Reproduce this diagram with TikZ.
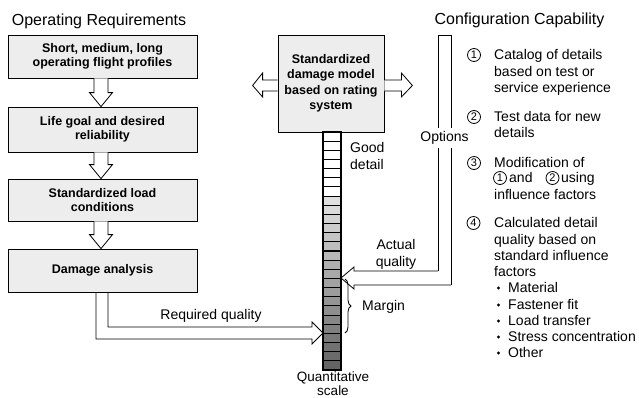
\documentclass[tikz,border=0pt]{standalone}
\usepackage{fontspec}
\setmainfont{Liberation Sans}
\usetikzlibrary{calc,decorations.pathreplacing}
\begin{document}
\begin{tikzpicture}[x=1pt,y=-1pt,
  reqbox/.style={draw=black, line width=0.8pt, fill=black!7, minimum width=189pt, align=center, font=\fontsize{12.5}{14}\selectfont\bfseries, inner sep=0pt},
  lbl/.style={font=\fontsize{14}{16.5}\selectfont, inner sep=0pt},
  ttl/.style={font=\fontsize{16}{18}\selectfont, inner sep=0pt},
  hollow/.style={draw=black, line width=0.8pt, line join=miter},
  cnum/.style={draw=black, circle, line width=0.8pt, minimum size=13pt, inner sep=0pt, font=\fontsize{11}{11}\selectfont},
  cell/.style={draw=black, line width=1.1pt},
]
\useasboundingbox (0,0) rectangle (639,397);

% titles
\node[ttl] (t1) at (99,21) {Operating Requirements};
\node[ttl] (t2) at (519.5,20) {Configuration Capability};

% left boxes
\node[reqbox, minimum height=43pt] (b1) at (102.5,56.5) {Short, medium, long\\operating flight profiles};
\node[reqbox, minimum height=45pt] (b2) at (102.5,129.5) {Life goal and desired\\reliability};
\node[reqbox, minimum height=42pt] (b3) at (102.5,200) {Standardized load\\conditions};
\node[reqbox, minimum height=43pt] (b4) at (102.5,270.5) {Damage analysis};

% hollow arrows between boxes
\foreach \u/\v in {b1/b2, b2/b3, b3/b4}{
  \draw[hollow, fill=white] ($(\u.south)+(-8.5,0)$) -- ($(\v.north)+(-8.5,-14)$) -- ($(\v.north)+(-13,-14)$)
     -- ($(\v.north)+(-1.5,0)$) -- ($(\v.north)+(10,-14)$) -- ($(\v.north)+(5.5,-14)$) -- ($(\u.south)+(5.5,0)$);
}

% central box
\node[draw=black, line width=0.8pt, fill=black!7, minimum width=106pt, minimum height=97pt, inner sep=0pt,
      align=center, font=\fontsize{12.5}{15.5}\selectfont\bfseries] (c) at (331,83.5)
      {Standardized\\damage model\\based on rating\\system};

% double arrows
\draw[hollow, fill=white] ($(c.west)+(0,-3.5)$) -- ($(c.west)+(-15,-3.5)$) -- ($(c.west)+(-15,-10.5)$)
   -- ($(c.west)+(-25,2)$) -- ($(c.west)+(-15,13.5)$) -- ($(c.west)+(-15,7.5)$) -- ($(c.west)+(0,7.5)$);
\draw[hollow, fill=white] ($(c.east)+(0,-3.5)$) -- ($(c.east)+(17,-3.5)$) -- ($(c.east)+(17,-10.5)$)
   -- ($(c.east)+(28,2)$) -- ($(c.east)+(17,13.5)$) -- ($(c.east)+(17,7.5)$) -- ($(c.east)+(0,7.5)$);

% quantitative scale
\coordinate (sTL) at (323,132);
\coordinate (sBR) at (341,370);
\foreach \i in {0,...,25}{
  \pgfmathsetmacro{\yt}{132+\i*9.1538}
  \pgfmathsetmacro{\yb}{132+(\i+1)*9.1538}
  \pgfmathsetmacro{\shade}{\i<7 ? 0 : 12+(\i-7)*2.7}
  \draw[cell, fill=black!\shade] (323,\yt) rectangle (341,\yb);
}
\draw[line width=1.6pt] (sTL) rectangle (sBR);

\node[lbl, anchor=base west] (gd1) at (350,152.5) {Good};
\node[lbl, anchor=base west] (gd2) at (350,169.5) {detail};

% required quality arrow
\draw[hollow] ($(b4.south)+(-6.5,0)$) |- (312,339) -- (312,344) -- (sTL |- 0,333) -- (312,322) -- (312,327) -| ($(b4.south)+(5.5,0)$);
\node[lbl] (rq) at (211,316) {Required quality};

% options / actual quality
\draw[hollow] (438,271) -- (438,35) -- (451,35) -- (451,285);
\draw[hollow] (438,271) -- (354,271) -- (354,267) -- (sBR |- 0,278) -- (354,289) -- (354,285) -- (451,285);
\node[lbl, fill=white, inner ysep=3pt] (opt) at (444.5,138) {Options};
\node[lbl, align=center] (aq) at (396,254.5) {Actual\\quality};

% margin brace
\draw[line width=0.8pt, decorate, decoration={brace, amplitude=6pt}] (345,279) -- (345,333);
\node[lbl, anchor=west] (mg) at (362,307) {Margin};

\node[lbl, align=center, font=\fontsize{13.5}{13.5}\selectfont] (qs) at (333,383.5) {Quantitative\\scale};

% right list
\node[cnum] (n1) at (474,55) {1};
\node[cnum] (n2) at (474,117) {2};
\node[cnum] (n3) at (474,163) {3};
\node[cnum] (n4) at (473.5,223) {4};
\foreach \y/\t [count=\k] in {59.5/Catalog of details, 76.5/based on test or, 92.5/service experience,
  121.5/Test data for new, 137.5/details, 167.5/Modification of, 199.5/influence factors,
  227.5/Calculated detail, 244.5/quality based on, 260.5/standard influence, 276.5/factors}{
  \node[lbl, anchor=base west] (r\k) at (494,\y) {\t};
}
\node[cnum] (m1) at (500,178) {1};
\node[lbl, anchor=base west] (and) at (509,182.5) {and};
\node[cnum] (m2) at (552.5,178) {2};
\node[lbl, anchor=base west] (using) at (561,182.5) {using};
\foreach \y/\t [count=\k] in {292.5/Material, 309.5/Fastener fit, 325.5/Load transfer, 341.5/Stress concentration, 357.5/Other}{
  \fill (498.5,\y-4.5) circle (1.7pt);
  \node[lbl, anchor=base west] (bl\k) at (508,\y) {\t};
}
\end{tikzpicture}
\end{document}
